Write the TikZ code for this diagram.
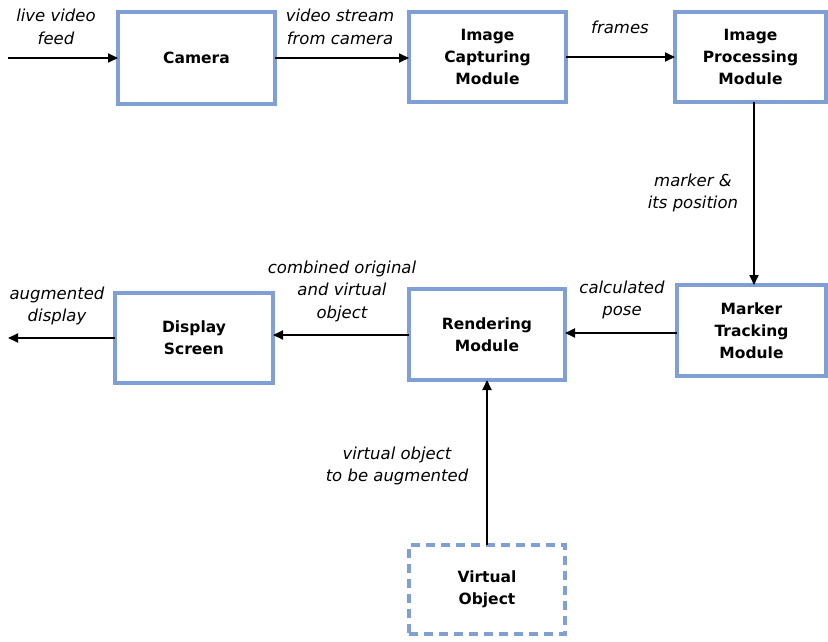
\documentclass[tikz,border=0pt]{standalone}
\usepackage{fontspec}
\setmainfont{DejaVu Sans}
\usetikzlibrary{arrows.meta,calc}
\definecolor{boxblue}{RGB}{127,159,213}
\tikzset{
  blk/.style={draw=boxblue, line width=4pt, fill=white, rectangle, align=center,
    inner sep=0pt, outer sep=0pt, font=\fontsize{15.5}{22}\selectfont\bfseries},
  dblk/.style={blk, dash pattern=on 9pt off 6pt},
  lbl/.style={align=center, inner sep=0pt, font=\fontsize{16.5}{22.5}\selectfont\itshape},
  arr/.style={line width=1.8pt, -{Triangle[length=10pt,width=9pt]}},
}
\begin{document}
\begin{tikzpicture}[x=1pt,y=-1pt]
\useasboundingbox (0,0) rectangle (828,641);
\fill[white] (0,0) rectangle (828,641);
% boxes
\node[blk, minimum width=157pt, minimum height=92pt] (cam) at (196.5,58) {Camera};
\node[blk, minimum width=157pt, minimum height=90pt] (cap) at (487.5,57) {Image\\Capturing\\Module};
\node[blk, minimum width=151pt, minimum height=90pt] (proc) at (750.5,57) {Image\\Processing\\Module};
\node[blk, minimum width=149pt, minimum height=91pt] (mark) at (751.5,330.5) {Marker\\Tracking\\Module};
\node[blk, minimum width=156pt, minimum height=91pt] (rend) at (487,334.5) {Rendering\\Module};
\node[blk, minimum width=158pt, minimum height=90pt] (disp) at (194,338) {Display\\Screen};
\node[dblk, minimum width=156pt, minimum height=89pt] (virt) at (487,589.5) {Virtual\\Object};
% free ends
\coordinate (in) at (8,58);
\coordinate (out) at (8,338);
% connectors
\draw[arr] (in) -- (cam.west |- in);
\draw[arr] (cam.east |- 0,58) -- (cap.west |- 0,58);
\draw[arr] (cap.east) -- (proc.west);
\draw[arr] ($(proc.south)+(3.5,0)$) -- ($(mark.north)+(2.5,0)$);
\draw[arr] (mark.west |- 0,333) -- (rend.east |- 0,333);
\draw[arr] (rend.west |- 0,335) -- (disp.east |- 0,335);
\draw[arr] (disp.west) -- (out);
\draw[arr] (virt.north) -- (rend.south);
% labels
\node[lbl] (l1) at (56,27) {live video\\feed};
\node[lbl] (l2) at (340,27) {video stream\\from camera};
\node[lbl] (l3) at (620,27) {frames};
\node[lbl] (l4) at (693,193) {marker \&\\its position};
\node[lbl] (l5) at (622,300) {calculated\\pose};
\node[lbl] (l6) at (342,291) {combined original\\and virtual\\object};
\node[lbl] (l7) at (57,306) {augmented\\display};
\node[lbl] (l8) at (397,466) {virtual object\\to be augmented};
\end{tikzpicture}
\end{document}
